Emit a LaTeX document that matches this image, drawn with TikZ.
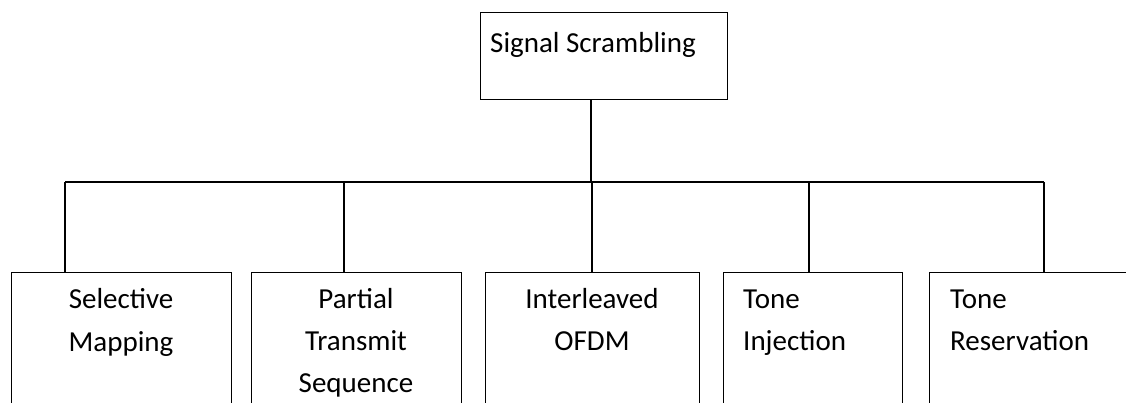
\documentclass[tikz,border=0pt]{standalone}
\usepackage{fontspec}
\setmainfont{Carlito}
\begin{document}
\begin{tikzpicture}[x=1pt,y=-1pt,
  box/.style={draw,line width=1.3pt,rectangle,inner sep=0pt,anchor=north west},
  lbl/.style={inner sep=0pt,font=\fontsize{29}{42}\selectfont},
  conn/.style={line width=1.3pt}]
\useasboundingbox (0,0) rectangle (1126,403);
\clip (0,0) rectangle (1126,403);
% top box
\node[box,minimum width=247pt,minimum height=87pt] (top) at (480,12) {};
\node[lbl,anchor=base west] (ttop) at (490,53) {Signal Scrambling};
% bottom boxes
\node[box,minimum width=220pt,minimum height=160pt] (b1) at (11,272) {};
\node[box,minimum width=210pt,minimum height=160pt] (b2) at (251,272) {};
\node[box,minimum width=214pt,minimum height=160pt] (b3) at (485,272) {};
\node[box,minimum width=179pt,minimum height=160pt] (b4) at (723,272) {};
\node[box,minimum width=230pt,minimum height=160pt] (b5) at (929,272) {};
% labels
\node[lbl,anchor=base] (l1a) at (121,308) {Selective};
\node[lbl,anchor=base] (l1b) at (121,351) {Mapping};
\node[lbl,anchor=base] (l2a) at (356,308) {Partial};
\node[lbl,anchor=base] (l2b) at (356,350) {Transmit};
\node[lbl,anchor=base] (l2c) at (356,392) {Sequence};
\node[lbl,anchor=base] (l3a) at (592,308) {Interleaved};
\node[lbl,anchor=base] (l3b) at (592,350) {OFDM};
\node[lbl,anchor=base west] (l4a) at (743,308) {Tone};
\node[lbl,anchor=base west] (l4b) at (743,350) {Injection};
\node[lbl,anchor=base west] (l5a) at (950,308) {Tone};
\node[lbl,anchor=base west] (l5b) at (950,350) {Reservation};
% connectors
\coordinate (bar) at (591,182);
\coordinate (j1) at (65,182);
\coordinate (j2) at (344,182);
\coordinate (j3) at (592,182);
\coordinate (j4) at (809,182);
\coordinate (j5) at (1044,182);
\draw[conn] (top.south -| bar) -- (bar);
\draw[conn] (j1) -- (j5);
\draw[conn] (j1) -- (j1 |- b1.north);
\draw[conn] (j2) -- (j2 |- b2.north);
\draw[conn] (j3) -- (j3 |- b3.north);
\draw[conn] (j4) -- (j4 |- b4.north);
\draw[conn] (j5) -- (j5 |- b5.north);
\end{tikzpicture}
\end{document}
